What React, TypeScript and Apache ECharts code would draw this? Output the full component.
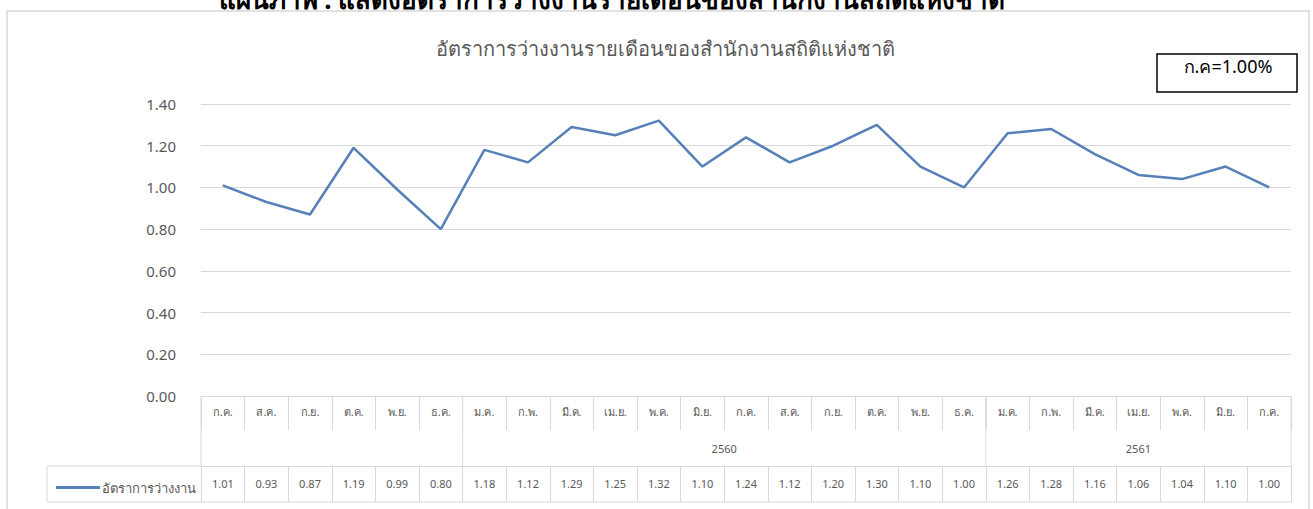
import React, { useEffect, useRef } from "react";
import * as echarts from "echarts";

const months = [
  "ก.ค.", "ส.ค.", "ก.ย.", "ต.ค.", "พ.ย.", "ธ.ค.",
  "ม.ค.", "ก.พ.", "มี.ค.", "เม.ย.", "พ.ค.", "มิ.ย.", "ก.ค.", "ส.ค.", "ก.ย.", "ต.ค.", "พ.ย.", "ธ.ค.",
  "ม.ค.", "ก.พ.", "มี.ค.", "เม.ย.", "พ.ค.", "มิ.ย.", "ก.ค.",
];
const rates = [
  1.01, 0.93, 0.87, 1.19, 0.99, 0.8,
  1.18, 1.12, 1.29, 1.25, 1.32, 1.1, 1.24, 1.12, 1.2, 1.3, 1.1, 1.0,
  1.26, 1.28, 1.16, 1.06, 1.04, 1.1, 1.0,
];
const yearLabels = ["", "2560", "2561"];
const yearSpans = [6, 12, 7];
const seriesName = "อัตราการว่างงาน";
const chartTitle = "อัตราการว่างงานรายเดือนของสำนักงานสถิติแห่งชาติ";
const headerText = "แผนภาพ : แสดงอัตราการว่างงานรายเดือนของสำนักงานสถิติแห่งชาติ";
const noteText = "ก.ค=1.00%";

const FONT = "Tahoma, 'Noto Sans', 'DejaVu Sans', sans-serif";
const GRID_C = "#d9d9d9";
const TXT_C = "#595959";

export default function App() {
  const ref = useRef<HTMLDivElement>(null);
  useEffect(() => {
    if (!ref.current) return;
    const chart = echarts.init(ref.current, null, { renderer: "svg" });
    const gridTop = 104;
    const gridBottomY = 396;
    chart.setOption({
      animation: false,
      backgroundColor: "#fff",
      textStyle: { fontFamily: FONT },
      title: {
        text: chartTitle,
        left: 660,
        textAlign: "center",
        top: 33,
        textStyle: { fontSize: 20, fontWeight: "normal", color: TXT_C, fontFamily: FONT },
      },
      legend: {
        left: 51,
        top: 476,
        icon: "rect",
        itemWidth: 44,
        itemHeight: 3,
        itemGap: 4,
        textStyle: { fontSize: 13, color: TXT_C, fontFamily: FONT, padding: [0, 0, 0, -3] },
        data: [seriesName],
      },
      grid: { left: 201, right: 22, top: gridTop, bottom: 509 - gridBottomY },
      xAxis: [
        {
          type: "category",
          data: months,
          boundaryGap: true,
          axisLine: { show: true, lineStyle: { color: GRID_C, width: 1 } },
          axisTick: { show: true, interval: 0, length: 34, lineStyle: { color: GRID_C } },
          axisLabel: { interval: 0, margin: 10, fontSize: 11, color: TXT_C, fontFamily: FONT },
        },
        {
          type: "category",
          data: rates.map((v) => v.toFixed(2)),
          position: "bottom",
          offset: 70,
          boundaryGap: true,
          axisLine: { show: true, lineStyle: { color: GRID_C, width: 1 } },
          axisTick: { show: true, interval: 0, length: 36, lineStyle: { color: GRID_C } },
          axisLabel: { interval: 0, margin: 12, fontSize: 11, color: TXT_C, fontFamily: FONT },
        },
      ],
      yAxis: {
        type: "value",
        min: 0,
        max: 1.4,
        interval: 0.2,
        axisLine: { show: false },
        axisTick: { show: false },
        splitLine: { lineStyle: { color: GRID_C, width: 1 } },
        axisLabel: {
          margin: 25,
          fontSize: 15,
          color: TXT_C,
          fontFamily: FONT,
          formatter: (v: number) => v.toFixed(2),
        },
      },
      series: [
        {
          name: seriesName,
          type: "line",
          data: rates,
          symbol: "none",
          lineStyle: { color: "#5681b8", width: 2.5 },
          itemStyle: { color: "#5681b8" },
        },
      ],
    });

    const x0 = chart.convertToPixel({ xAxisIndex: 0 }, 0) as number;
    const x1 = chart.convertToPixel({ xAxisIndex: 0 }, 1) as number;
    const w = x1 - x0;
    const left = x0 - w / 2;
    const right = left + w * months.length;
    const yTop = chart.convertToPixel({ yAxisIndex: 0 }, 0) as number;
    const yearBottom = yTop + 70;
    const dataBottom = yearBottom + 36;
    const legendLeft = 47;

    const elements: any[] = [];
    elements.push({
      type: "rect",
      shape: { x: 7, y: 11, width: 1302, height: 530 },
      style: { fill: "none", stroke: GRID_C, lineWidth: 1.5 },
      silent: true,
    });
    elements.push({
      type: "text",
      x: 612,
      y: 12,
      style: {
        text: headerText,
        align: "center",
        verticalAlign: "bottom",
        fontSize: 26,
        fontWeight: "bold",
        fontFamily: FONT,
        fill: "#000",
      },
    });
    elements.push({
      type: "rect",
      shape: { x: 1157, y: 54, width: 140, height: 38 },
      style: { fill: "#fff", stroke: "#000", lineWidth: 1.5 },
    });
    elements.push({
      type: "text",
      x: 1228,
      y: 66,
      style: {
        text: noteText,
        align: "center",
        verticalAlign: "middle",
        fontSize: 18,
        fontFamily: FONT,
        fill: "#000",
      },
    });
    let idx = 0;
    const bounds: number[] = [left];
    yearSpans.forEach((span, gi) => {
      const gl = left + idx * w;
      const gr = left + (idx + span) * w;
      bounds.push(gr);
      if (yearLabels[gi]) {
        elements.push({
          type: "text",
          x: (gl + gr) / 2,
          y: yTop + 52,
          style: {
            text: yearLabels[gi],
            align: "center",
            verticalAlign: "middle",
            fontSize: 11,
            fontFamily: FONT,
            fill: TXT_C,
          },
        });
      }
      idx += span;
    });
    bounds.forEach((bx) => {
      elements.push({
        type: "line",
        shape: { x1: bx, y1: yTop, x2: bx, y2: yearBottom },
        style: { stroke: GRID_C, lineWidth: 1 },
        silent: true,
      });
    });
    elements.push({
      type: "line",
      shape: { x1: legendLeft, y1: yearBottom, x2: left, y2: yearBottom },
      style: { stroke: GRID_C, lineWidth: 1 },
      silent: true,
    });
    elements.push({
      type: "line",
      shape: { x1: legendLeft, y1: dataBottom, x2: right, y2: dataBottom },
      style: { stroke: GRID_C, lineWidth: 1 },
      silent: true,
    });
    elements.push({
      type: "line",
      shape: { x1: legendLeft, y1: yearBottom, x2: legendLeft, y2: dataBottom },
      style: { stroke: GRID_C, lineWidth: 1 },
      silent: true,
    });

    chart.setOption({ graphic: { elements } });

    return () => chart.dispose();
  }, []);

  return (
    <div
      ref={ref}
      style={{ position: "fixed", left: 0, top: 0, width: 1313, height: 509, background: "#fff" }}
    />
  );
}
